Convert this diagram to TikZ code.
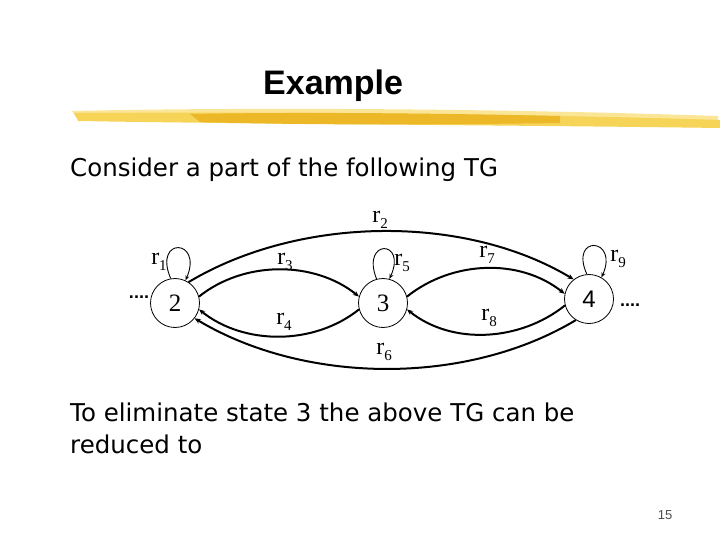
\documentclass[tikz,border=0pt]{standalone}
\usepackage{fontspec}
\setmainfont{Liberation Serif}
\newfontfamily\bodyfont{DejaVu Sans}
\newfontfamily\arialfont{Liberation Sans}
\usetikzlibrary{arrows.meta}
\definecolor{brushA}{RGB}{246,212,88}
\definecolor{brushB}{RGB}{236,184,40}
\definecolor{brushC}{RGB}{250,230,150}
\newcommand{\rlab}[1]{r\raisebox{-6pt}{\fontsize{15}{15}\selectfont #1}}
\begin{document}
\begin{tikzpicture}[x=1pt,y=-1pt,
  state/.style={circle,draw,line width=0.8pt,minimum size=49pt,inner sep=0pt,font=\fontsize{25}{25}\selectfont},
  edge/.style={line width=2pt,-{Stealth[length=6pt,width=5pt]}},
  loopedge/.style={line width=0.9pt,-{Stealth[length=5pt,width=4pt]}},
  lab/.style={inner sep=0pt,font=\fontsize{24}{24}\selectfont},
  body/.style={inner sep=0pt,anchor=base west,font=\bodyfont\fontsize{24.5}{32}\selectfont}]
\useasboundingbox (0,0) rectangle (720,540);
% brush stroke
\fill[brushC] (72,111) .. controls (200,108) and (450,107) .. (718,116) -- (718,123) .. controls (450,116) and (200,117) .. (76,117) -- cycle;
\fill[brushA] (74,113) .. controls (250,112) and (500,113) .. (720,120) -- (720,128) .. controls (500,125) and (250,124) .. (78,121) -- cycle;
\fill[brushB] (190,114) .. controls (300,112) and (420,113) .. (560,116) -- (560,123) .. controls (420,125) and (300,125) .. (200,122) -- cycle;
% title
\node[inner sep=0pt,anchor=base west,font=\arialfont\bfseries\fontsize{34}{34}\selectfont] (title) at (263,95) {Example};
\node[body] (t1) at (70,177) {Consider a part of the following TG};
\node[body] (t2) at (70,421) {To eliminate state 3 the above TG can be};
\node[body] (t3) at (70,453) {reduced to};
\node[inner sep=0pt,font=\arialfont\fontsize{13}{13}\selectfont,text=black!70] (pg) at (665,515) {15};
% states
\node[state] (n2) at (175,303) {2};
\node[state] (n3) at (383,303) {3};
\node[state,font=\arialfont\fontsize{24}{24}\selectfont] (n4) at (589,299) {4};
\node[inner sep=0pt,font=\arialfont\bfseries\fontsize{18}{18}\selectfont] (dl) at (139,297) {....};
\node[inner sep=0pt,font=\arialfont\bfseries\fontsize{18}{18}\selectfont] (dr) at (630,305) {....};
% loops
\draw[loopedge] (n2.100) .. controls +(-18,-42) and +(18,-42) .. (n2.65);
\draw[loopedge] (n3.105) .. controls +(-16,-40) and +(18,-40) .. (n3.75);
\draw[loopedge] (n4.95) .. controls +(-18,-40) and +(18,-40) .. (n4.60);
% edges
\draw[edge] (n2.57) .. controls +(110,-66) and +(-110,-66) .. (n4.128);
\draw[edge] (n2.15) .. controls +(45,-36) and +(-45,-36) .. (n3.165);
\draw[edge] (n3.195) .. controls +(-45,36) and +(45,36) .. (n2.345);
\draw[edge] (n3.15) .. controls +(45,-36) and +(-45,-36) .. (n4.168);
\draw[edge] (n4.195) .. controls +(-45,36) and +(45,36) .. (n3.345);
\draw[edge] (n4.238) .. controls +(-110,66) and +(110,66) .. (n2.322);
% labels
\node[lab] (l1) at (159,262) {\rlab{1}};
\node[lab] (l2) at (380,220) {\rlab{2}};
\node[lab] (l3) at (285,262) {\rlab{3}};
\node[lab] (l4) at (284,322) {\rlab{4}};
\node[lab] (l5) at (402,263) {\rlab{5}};
\node[lab] (l6) at (384,352) {\rlab{6}};
\node[lab] (l7) at (487,255) {\rlab{7}};
\node[lab] (l8) at (489,318) {\rlab{8}};
\node[lab] (l9) at (618,259) {\rlab{9}};
\end{tikzpicture}
\end{document}
